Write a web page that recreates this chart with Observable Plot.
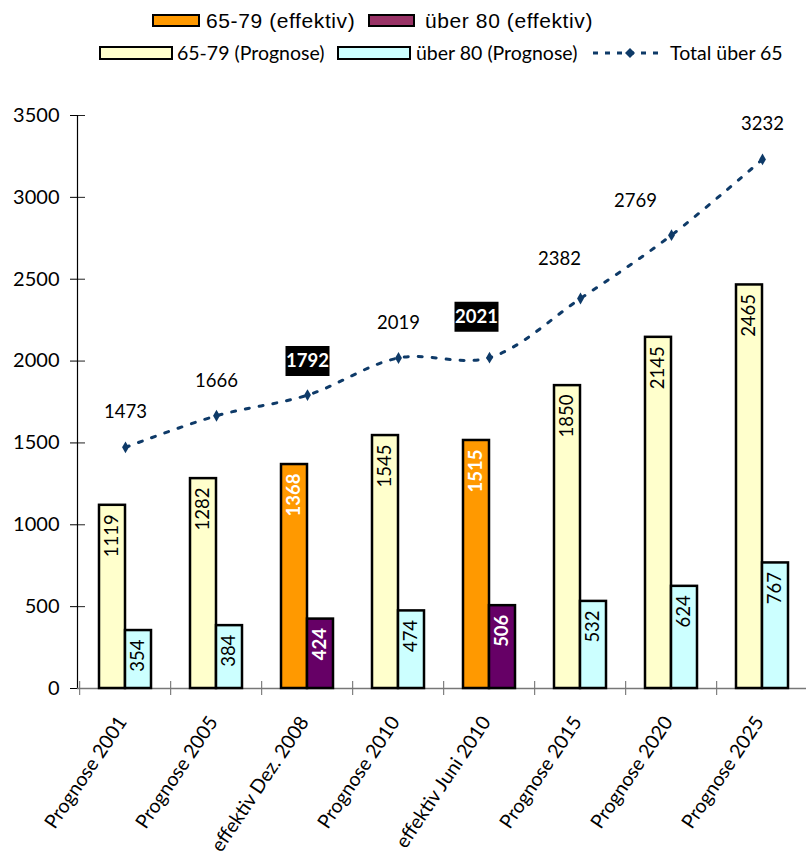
<!DOCTYPE html>
<html>
<head>
<meta charset="utf-8">
<script src="https://cdn.jsdelivr.net/npm/d3@7"></script>
<script src="https://cdn.jsdelivr.net/npm/@observablehq/plot@0.6"></script>
<style>
  html, body { margin: 0; padding: 0; background: #fff; }
  #wrap { position: relative; width: 806px; height: 854px; overflow: hidden; }
  #legend { position: relative; height: 70px; }
  .sw { position: absolute; box-sizing: border-box; border: 2px solid #000; }
  .lt1 { position: absolute; font-family: "Liberation Sans", Arial, sans-serif; font-size: 21px; letter-spacing: 0.6px; line-height: 1; white-space: nowrap; }
  .lt2 { position: absolute; font-family: Lato, sans-serif; font-size: 19.5px; line-height: 1; white-space: nowrap; }
  #chart { position: absolute; left: 0; top: 70px; }
</style>
</head>
<body>
<div id="wrap">
  <div id="legend"></div>
  <div id="chart"></div>
</div>
<script>
// ---- data ----
const categories = ["Prognose 2001", "Prognose 2005", "effektiv Dez. 2008", "Prognose 2010",
                    "effektiv Juni 2010", "Prognose 2015", "Prognose 2020", "Prognose 2025"];
const kinds = ["Prognose", "Prognose", "effektiv", "Prognose", "effektiv", "Prognose", "Prognose", "Prognose"];
const age6579 = [1119, 1282, 1368, 1545, 1515, 1850, 2145, 2465];
const over80 = [354, 384, 424, 474, 506, 532, 624, 767];
const total65 = [1473, 1666, 1792, 2019, 2021, 2382, 2769, 3232];
const yTicks = [0, 500, 1000, 1500, 2000, 2500, 3000, 3500];

const seriesKeys = ["65-79 Prognose", "über 80 Prognose", "65-79 effektiv", "über 80 effektiv"];
const seriesColors = ["#FFFFCC", "#CCFFFF", "#FF9900", "#660066"];

// ---- tables ----
const young = categories.map((c, i) => ({cat: c, kind: kinds[i], value: age6579[i], key: "65-79 " + kinds[i]}));
const old = categories.map((c, i) => ({cat: c, kind: kinds[i], value: over80[i], key: "über 80 " + kinds[i]}));
const totals = categories.map((c, i) => ({cat: c, kind: kinds[i], value: total65[i]}));

const navy = "#0E3A68";
const boxSymbol = {draw(ctx) { ctx.rect(-22, -15, 44, 30); }};
const lblFont = {fontFamily: "Lato, sans-serif", fontSize: 18.5};

const isEff = d => d.kind === "effektiv";
const isProg = d => d.kind !== "effektiv";
const tIdx = v => totals.filter((d, i) => v.includes(i));

function barLabels(data, dx) {
  return [
    Plot.text(data.filter(isProg), {x: "cat", y: "value", text: d => String(d.value), dx, dy: 9, rotate: -90,
      textAnchor: "end", ...lblFont, fill: "#000"}),
    Plot.text(data.filter(isEff), {x: "cat", y: "value", text: d => String(d.value), dx, dy: 9, rotate: -90,
      textAnchor: "end", ...lblFont, fill: "#fff", fontWeight: "bold"})
  ];
}

const chart = Plot.plot({
  width: 806,
  height: 784,
  marginLeft: 77,
  marginRight: -4,
  marginTop: 45,
  marginBottom: 166,
  style: {fontFamily: "Lato, sans-serif", background: "white", overflow: "visible"},
  x: {domain: categories, paddingInner: 0.716, paddingOuter: 0.358, label: null},
  y: {domain: [0, 3500], label: null},
  color: {domain: seriesKeys, range: seriesColors},
  marks: [
    // axes
    Plot.axisY({ticks: yTicks, tickSize: 7, tickPadding: 11, fontSize: 20, color: "#000", tickFormat: d => String(d), label: null}),
    Plot.axisY({ticks: yTicks, tickSize: 8, dx: 8, tickFormat: () => "", color: "#222", label: null}),
    Plot.axisX({tickSize: 0, tickPadding: 30, tickRotate: -56, dx: -3, fontSize: 19.5, color: "#000", label: null}),
    Plot.axisX({tickSize: 14, dy: -7, dx: -45.8, tickFormat: () => "", color: "#666", label: null}),
    Plot.frame({anchor: "left", stroke: "#000", strokeWidth: 1.2}),
    Plot.ruleY([0], {stroke: "#777", strokeWidth: 1.5}),
    // bars
    Plot.barY(young, {x: "cat", y: "value", fill: "key", dx: -13, stroke: "#000", strokeWidth: 2.5}),
    Plot.barY(old, {x: "cat", y: "value", fill: "key", dx: 13, stroke: "#000", strokeWidth: 2.5}),
    // bar labels
    ...barLabels(young, -13),
    ...barLabels(old, 13),
    // total line
    Plot.line(totals, {x: "cat", y: "value", curve: "catmull-rom", stroke: navy, strokeWidth: 3, strokeDasharray: "4,10"}),
    Plot.dot(totals, {x: "cat", y: "value", symbol: "diamond", r: 3.6, fill: navy}),
    // total labels
    Plot.text(tIdx([0, 1, 3, 7]), {x: "cat", y: "value", text: d => String(d.value), dy: -35, ...lblFont, fill: "#000"}),
    Plot.text(tIdx([5]), {x: "cat", y: "value", text: d => String(d.value), dx: -21, dy: -39, ...lblFont, fill: "#000"}),
    Plot.text(tIdx([6]), {x: "cat", y: "value", text: d => String(d.value), dx: -36, dy: -34, ...lblFont, fill: "#000"}),
    Plot.dot(tIdx([2]), {x: "cat", y: "value", symbol: boxSymbol, fill: "#000", dy: -34}),
    Plot.text(tIdx([2]), {x: "cat", y: "value", text: d => String(d.value), dy: -34, ...lblFont, fill: "#fff", fontWeight: "bold"}),
    Plot.dot(tIdx([4]), {x: "cat", y: "value", symbol: boxSymbol, fill: "#000", dx: -13, dy: -41}),
    Plot.text(tIdx([4]), {x: "cat", y: "value", text: d => String(d.value), dx: -13, dy: -41, ...lblFont, fill: "#fff", fontWeight: "bold"})
  ]
});
document.getElementById("chart").appendChild(chart);

// ---- legend ----
const legend = document.getElementById("legend");
const legendRow1 = [
  {label: "65-79 (effektiv)", color: "#FF9900", sx: 152, sw: 48, tx: 206},
  {label: "über 80 (effektiv)", color: "#993366", sx: 368, sw: 47, tx: 425}
];
const legendRow2 = [
  {label: "65-79 (Prognose)", color: "#FFFFCC", sx: 99, sw: 74, tx: 177},
  {label: "über 80 (Prognose)", color: "#CCFFFF", sx: 337, sw: 74, tx: 416}
];
legendRow1.forEach(d => {
  const s = document.createElement("div");
  s.className = "sw"; s.style.left = d.sx + "px"; s.style.top = "14px"; s.style.width = d.sw + "px"; s.style.height = "13px"; s.style.background = d.color;
  legend.appendChild(s);
  const t = document.createElement("div");
  t.className = "lt1"; t.style.left = d.tx + "px"; t.style.top = "10px"; t.textContent = d.label;
  legend.appendChild(t);
});
legendRow2.forEach(d => {
  const s = document.createElement("div");
  s.className = "sw"; s.style.left = d.sx + "px"; s.style.top = "46px"; s.style.width = d.sw + "px"; s.style.height = "14px"; s.style.background = d.color;
  legend.appendChild(s);
  const t = document.createElement("div");
  t.className = "lt2"; t.style.left = d.tx + "px"; t.style.top = "43px"; t.textContent = d.label;
  legend.appendChild(t);
});
// line sample
const ns = "http://www.w3.org/2000/svg";
const ls = document.createElementNS(ns, "svg");
ls.setAttribute("width", 70); ls.setAttribute("height", 14);
ls.style.position = "absolute"; ls.style.left = "593px"; ls.style.top = "46px";
ls.innerHTML = `<line x1="0" y1="7" x2="68" y2="7" stroke="${navy}" stroke-width="3" stroke-dasharray="5,7"/>` +
  `<path d="M37,2 L42,7 L37,12 L32,7 Z" fill="${navy}"/>`;
legend.appendChild(ls);
const tt = document.createElement("div");
tt.className = "lt2"; tt.style.left = "670px"; tt.style.top = "43px"; tt.textContent = "Total über 65";
legend.appendChild(tt);
</script>
</body>
</html>
